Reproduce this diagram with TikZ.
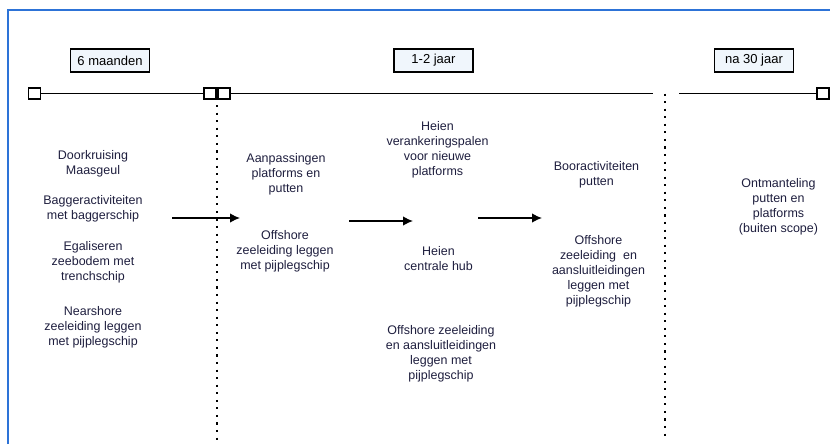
\documentclass[tikz,border=0pt]{standalone}
\usepackage{fontspec}
\setmainfont{Liberation Sans}
\usetikzlibrary{arrows.meta}
\definecolor{frameblue}{RGB}{45,115,215}
\definecolor{txt}{RGB}{30,30,62}
\definecolor{boxfill}{RGB}{240,246,252}
\tikzset{
 lbl/.style={draw,line width=0.9pt,fill=boxfill,font=\fontsize{7.4}{8.6}\selectfont,minimum width=1.58cm,minimum height=0.46cm,inner sep=0pt},
 act/.style={align=center,text=txt,font=\fontsize{7.1}{8.55}\selectfont,inner sep=0pt},
 tick/.style={draw,line width=0.7pt,fill=white,minimum width=0.24cm,minimum height=0.22cm,inner sep=0pt},
 sep/.style={line width=1.3pt,dash pattern=on 1.2pt off 3.1pt},
 flow/.style={-{Latex[length=2mm,width=1.9mm]},line width=0.8pt},
}
\begin{document}
\begin{tikzpicture}
\useasboundingbox (0,0) rectangle (16.6,-8.88);
%frame
\draw[frameblue,line width=1.2pt](0.16,-8.88)--(0.16,-0.2)--(16.6,-0.2);
%time line
\node[tick](t0) at (0.69,-1.87){};
\node[tick](t1) at (4.2,-1.87){};
\node[tick](t2) at (4.48,-1.87){};
\node[tick](t3) at (16.46,-1.87){};
\coordinate(g1) at (13.06,-1.87);
\coordinate(g2) at (13.58,-1.87);
\draw[line width=0.8pt](t0)--(t1);
\draw[line width=0.8pt](t2)--(g1);
\draw[line width=0.8pt](g2)--(t3);
%separators
\draw[sep](4.34,-1.95)--(4.34,-8.88);
\draw[sep](13.3,-1.87)--(13.3,-8.8);
%periods
\foreach \n/\x/\t in {p1/2.2/6 maanden,p2/8.67/1-2 jaar,p3/15.08/na 30 jaar}{\node[lbl](\n) at (\x,-1.21){\t};}
%activities
\node[act](a1) at (1.86,-3.28){Doorkruising\\Maasgeul};
\node[act](a2) at (1.86,-4.17){Baggeractiviteiten\\met baggerschip};
\node[act](a3) at (1.86,-5.24){Egaliseren\\zeebodem met\\trenchschip};
\node[act](a4) at (1.86,-6.54){Nearshore\\zeeleiding leggen\\met pijplegschip};
\node[act](b1) at (5.72,-3.49){Aanpassingen\\platforms en\\putten};
\node[act](b2) at (5.7,-5.02){Offshore\\zeeleiding leggen\\met pijplegschip};
\node[act](c1) at (8.75,-3.0){Heien\\verankeringspalen\\voor nieuwe\\platforms};
\node[act](c2) at (8.77,-5.18){Heien\\centrale hub};
\node[act](c3) at (8.82,-7.08){Offshore zeeleiding\\en aansluitleidingen\\leggen met\\pijplegschip};
\node[act](d1) at (11.93,-3.5){Booractiviteiten\\putten};
\node[act](d2) at (11.97,-5.43){Offshore\\zeeleiding\ \ en\\aansluitleidingen\\leggen met\\pijplegschip};
\node[act](e1) at (15.57,-4.14){Ontmanteling\\putten en\\platforms\\(buiten scope)};
%arrows
\foreach \i/\a/\b/\y in {1/3.44/4.8/4.36,2/6.98/8.26/4.42,3/9.56/10.84/4.36}{
 \coordinate(from\i) at (\a,-\y);
 \coordinate(to\i) at (\b,-\y);
 \draw[flow](from\i)--(to\i);}
\end{tikzpicture}
\end{document}
